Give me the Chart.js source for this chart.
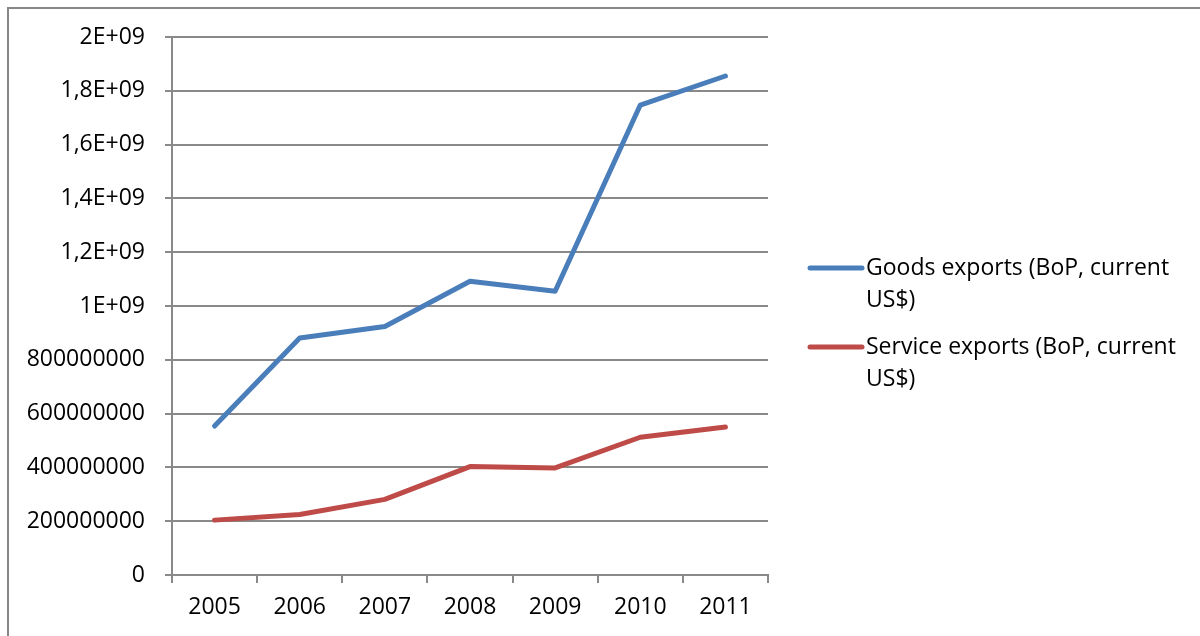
<!DOCTYPE html>
<html>
<head>
<meta charset="utf-8">
<script src="https://cdn.jsdelivr.net/npm/chart.js@4/dist/chart.umd.min.js"></script>
<style>
  html, body { margin: 0; padding: 0; background: #fff; }
  #wrap { position: relative; width: 1200px; height: 636px; overflow: hidden; }
  #frame { position: absolute; left: 7px; top: 7px; right: -10px; bottom: -10px; border-left: 2px solid #878787; border-top: 2px solid #878787; pointer-events: none; }
  canvas { position: absolute; left: 0; top: 0; }
</style>
</head>
<body>
<div id="wrap">
  <canvas id="c" width="1200" height="636"></canvas>
  <div id="frame"></div>
</div>
<script>
const categories = ["2005", "2006", "2007", "2008", "2009", "2010", "2011"];
const goodsExports = [554000000, 881000000, 924000000, 1092000000, 1055000000, 1747000000, 1855000000];
const serviceExports = [204000000, 225000000, 281000000, 403000000, 398000000, 512000000, 550000000];
const seriesNames = ["Goods exports (BoP, current US$)", "Service exports (BoP, current US$)"];
const legendLines = [["Goods exports (BoP, current", "US$)"], ["Service exports (BoP, current", "US$)"]];
const yTickLabels = ["0", "200000000", "400000000", "600000000", "800000000", "1E+09", "1,2E+09", "1,4E+09", "1,6E+09", "1,8E+09", "2E+09"];

const FONT = "'Open Sans', sans-serif";
const GRID = "#898989";

const legendPlugin = {
  id: 'sideLegend',
  afterDraw(chart) {
    const ctx = chart.ctx;
    const ys = [268, 347];
    ctx.save();
    chart.data.datasets.forEach((ds, i) => {
      const y = ys[i];
      ctx.strokeStyle = ds.borderColor;
      ctx.lineWidth = 5;
      ctx.lineCap = 'round';
      ctx.beginPath();
      ctx.moveTo(810, y);
      ctx.lineTo(862, y);
      ctx.stroke();
      ctx.fillStyle = '#000';
      ctx.font = "23px " + FONT;
      ctx.textBaseline = 'middle';
      ctx.textAlign = 'left';
      legendLines[i].forEach((t, k) => ctx.fillText(t, 866, y + k * 32));
    });
    ctx.restore();
  }
};

new Chart(document.getElementById('c'), {
  type: 'line',
  data: {
    labels: categories,
    datasets: [
      { label: seriesNames[0], data: goodsExports, borderColor: '#4a7ebb', backgroundColor: '#4a7ebb', borderWidth: 5, pointRadius: 0, tension: 0, borderCapStyle: 'round', borderJoinStyle: 'round' },
      { label: seriesNames[1], data: serviceExports, borderColor: '#be4b48', backgroundColor: '#be4b48', borderWidth: 5, pointRadius: 0, tension: 0, borderCapStyle: 'round', borderJoinStyle: 'round' }
    ]
  },
  options: {
    responsive: false,
    animation: false,
    events: [],
    layout: { padding: { top: 37, left: 0, right: 432, bottom: 0 } },
    plugins: { legend: { display: false }, tooltip: { enabled: false } },
    scales: {
      x: {
        offset: true,
        grid: { offset: true, drawOnChartArea: false, drawTicks: true, tickLength: 8, color: GRID, lineWidth: 2 },
        border: { display: true, color: GRID, width: 2 },
        ticks: { color: '#000', font: { family: FONT, size: 23 }, padding: 11, maxRotation: 0 },
        afterFit(s) { s.height = 61; }
      },
      y: {
        min: 0, max: 2000000000,
        ticks: { stepSize: 200000000, color: '#000', font: { family: FONT, size: 23 }, padding: 20,
          callback: (v, i) => yTickLabels[i] },
        grid: { color: GRID, lineWidth: 2, tickLength: 7 },
        border: { display: true, color: GRID, width: 2 },
        afterFit(s) { s.width = 172; }
      }
    }
  },
  plugins: [legendPlugin]
});
</script>
</body>
</html>
